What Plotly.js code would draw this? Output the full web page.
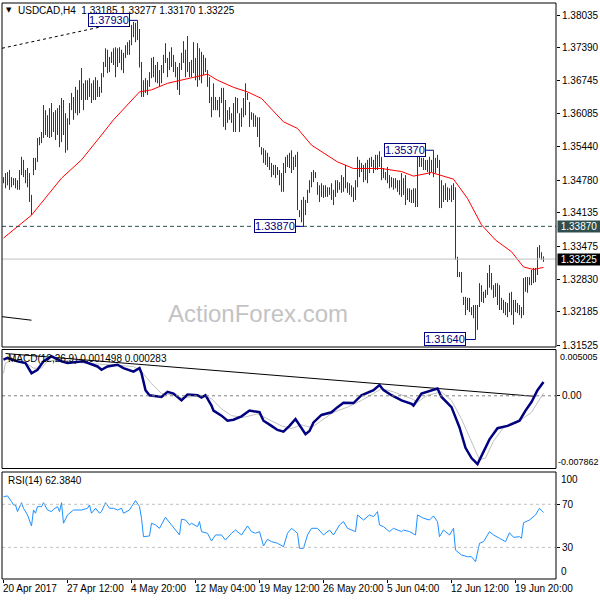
<!DOCTYPE html>
<html><head><meta charset="utf-8">
<script src="https://cdn.plot.ly/plotly-3.0.1.min.js"></script>
<style>html,body{margin:0;padding:0;background:#fff}</style>
</head><body>
<div id="chart" style="width:600px;height:600px"></div>
<script>
const symbol = "USDCAD,H4";
const lastOHLC = [1.33185, 1.33277, 1.33170, 1.33225];

const highs = [1.3484,1.3492,1.3494,1.3498,1.3484,1.3482,1.3482,1.3478,1.3498,1.3524,
 1.3518,1.3498,1.3502,1.3492,1.3449,1.3522,1.3522,1.3561,1.3563,1.3573,
 1.3626,1.3616,1.3606,1.3620,1.3630,1.3612,1.3616,1.3620,1.3626,1.3640,
 1.3636,1.3610,1.3600,1.3630,1.3650,1.3642,1.3662,1.3656,1.3675,1.3699,
 1.3669,1.3675,1.3675,1.3679,1.3669,1.3675,1.3681,1.3675,1.3662,1.3689,
 1.3711,1.3738,1.3735,1.3721,1.3731,1.3738,1.3740,1.3738,1.3740,1.3735,
 1.3729,1.3744,1.3750,1.3754,1.3784,1.3790,1.3788,1.3793,1.3776,1.3711,
 1.3675,1.3679,1.3675,1.3691,1.3719,1.3721,1.3705,1.3711,1.3695,1.3705,
 1.3725,1.3748,1.3719,1.3731,1.3740,1.3725,1.3711,1.3701,1.3709,1.3729,
 1.3752,1.3735,1.3762,1.3711,1.3715,1.3750,1.3719,1.3748,1.3738,1.3731,
 1.3725,1.3719,1.3695,1.3681,1.3642,1.3669,1.3642,1.3636,1.3642,1.3660,
 1.3660,1.3636,1.3616,1.3622,1.3610,1.3630,1.3642,1.3640,1.3610,1.3620,
 1.3640,1.3669,1.3650,1.3632,1.3612,1.3610,1.3606,1.3602,1.3602,1.3543,
 1.3541,1.3537,1.3532,1.3524,1.3512,1.3508,1.3508,1.3504,1.3498,1.3492,
 1.3512,1.3524,1.3528,1.3532,1.3537,1.3524,1.3528,1.3534,1.3419,1.3439,
 1.3445,1.3439,1.3459,1.3478,1.3494,1.3498,1.3494,1.3474,1.3468,1.3472,
 1.3468,1.3468,1.3464,1.3464,1.3472,1.3459,1.3478,1.3478,1.3474,1.3488,
 1.3484,1.3508,1.3474,1.3472,1.3468,1.3464,1.3478,1.3524,1.3518,1.3512,
 1.3508,1.3512,1.3518,1.3522,1.3524,1.3518,1.3528,1.3528,1.3535,1.3524,
 1.3502,1.3494,1.3504,1.3488,1.3484,1.3482,1.3482,1.3478,1.3478,1.3492,
 1.3482,1.3488,1.3462,1.3462,1.3459,1.3462,1.3462,1.3528,1.3524,1.3522,
 1.3522,1.3518,1.3518,1.3524,1.3518,1.3537,1.3522,1.3528,1.3518,1.3478,
 1.3468,1.3472,1.3464,1.3462,1.3468,1.3472,1.3464,1.3327,1.3297,1.3297,
 1.3248,1.3248,1.3246,1.3246,1.3228,1.3232,1.3232,1.3232,1.3275,1.3271,
 1.3258,1.3262,1.3295,1.3311,1.3295,1.3271,1.3275,1.3275,1.3271,1.3246,
 1.3242,1.3238,1.3236,1.3256,1.3258,1.3242,1.3242,1.3236,1.3232,1.3228,
 1.3285,1.3287,1.3287,1.3287,1.3301,1.3305,1.3305,1.3346,1.3350,1.3336,
 1.33277];

const lows = [1.3472,1.3462,1.3468,1.3459,1.3464,1.3468,1.3462,1.3459,1.3459,1.3488,
 1.3484,1.3472,1.3464,1.3435,1.3409,1.3488,1.3498,1.3514,1.3547,1.3551,
 1.3561,1.3567,1.3563,1.3561,1.3563,1.3573,1.3557,1.3567,1.3543,1.3553,
 1.3567,1.3532,1.3537,1.3587,1.3616,1.3597,1.3610,1.3606,1.3610,1.3636,
 1.3616,1.3636,1.3636,1.3642,1.3630,1.3636,1.3636,1.3642,1.3642,1.3650,
 1.3681,1.3701,1.3689,1.3691,1.3709,1.3705,1.3681,1.3701,1.3709,1.3695,
 1.3689,1.3719,1.3725,1.3725,1.3744,1.3760,1.3750,1.3754,1.3700,1.3642,
 1.3642,1.3650,1.3646,1.3662,1.3679,1.3681,1.3671,1.3669,1.3662,1.3669,
 1.3689,1.3709,1.3681,1.3695,1.3701,1.3691,1.3681,1.3656,1.3646,1.3695,
 1.3709,1.3681,1.3691,1.3681,1.3681,1.3689,1.3675,1.3662,1.3675,1.3669,
 1.3685,1.3691,1.3662,1.3630,1.3602,1.3616,1.3616,1.3616,1.3602,1.3630,
 1.3583,1.3577,1.3591,1.3597,1.3591,1.3573,1.3573,1.3610,1.3573,1.3583,
 1.3602,1.3606,1.3636,1.3583,1.3597,1.3583,1.3583,1.3563,1.3543,1.3528,
 1.3512,1.3508,1.3504,1.3498,1.3484,1.3488,1.3482,1.3488,1.3468,1.3455,
 1.3455,1.3492,1.3504,1.3502,1.3492,1.3498,1.3504,1.3419,1.3405,1.3395,
 1.3387,1.3409,1.3433,1.3453,1.3464,1.3474,1.3482,1.3449,1.3435,1.3445,
 1.3443,1.3445,1.3445,1.3449,1.3439,1.3429,1.3445,1.3453,1.3459,1.3453,
 1.3455,1.3462,1.3453,1.3449,1.3445,1.3435,1.3439,1.3464,1.3484,1.3494,
 1.3474,1.3478,1.3472,1.3492,1.3504,1.3492,1.3498,1.3498,1.3504,1.3478,
 1.3482,1.3478,1.3472,1.3462,1.3464,1.3459,1.3462,1.3455,1.3449,1.3445,
 1.3449,1.3429,1.3439,1.3435,1.3433,1.3433,1.3425,1.3425,1.3504,1.3504,
 1.3498,1.3498,1.3494,1.3488,1.3494,1.3484,1.3492,1.3502,1.3423,1.3423,
 1.3435,1.3439,1.3435,1.3439,1.3435,1.3439,1.3321,1.3287,1.3287,1.3256,
 1.3232,1.3212,1.3222,1.3218,1.3212,1.3206,1.3164,1.3183,1.3228,1.3238,
 1.3236,1.3246,1.3252,1.3266,1.3262,1.3246,1.3248,1.3232,1.3222,1.3222,
 1.3216,1.3212,1.3208,1.3218,1.3212,1.3193,1.3218,1.3216,1.3212,1.3206,
 1.3212,1.3258,1.3256,1.3271,1.3271,1.3275,1.3277,1.3291,1.3325,1.3321,
 1.33170];

const maIdx = [0,14,29,39,49,55,68,74,82,89,99,102,107,115,122,129,140,147,154,160,167,175,189,199,205,214,225,232,239,246,254,260,265,270];
const maVal = [1.3364,1.3409,1.3482,1.3518,1.3567,1.3597,1.3652,1.3656,1.3669,1.3675,1.3684,1.3687,1.3675,1.3661,1.3652,1.3639,1.3593,1.3580,1.3547,1.3531,1.3514,1.3501,1.3501,1.3495,1.3486,1.3493,1.3480,1.3442,1.3390,1.3360,1.3337,1.3307,1.3302,1.3306];

const macdIdx = [0,2,7,11,14,17,20,24,29,32,40,47,49,52,57,60,65,68,69,71,73,79,82,85,89,92,97,99,101,104,105,109,112,115,119,123,128,130,134,137,140,143,146,149,151,153,155,159,164,167,170,175,179,185,188,190,194,199,204,205,209,217,219,224,228,231,234,237,239,243,247,252,258,261,264,267,270];
const macdVal = [0.0039,0.00409,0.00372,0.00354,0.00244,0.00281,0.00372,0.00427,0.00372,0.00354,0.00372,0.00317,0.00281,0.00317,0.00336,0.00299,0.00262,0.00299,0.00244,0.00061,0.00006,-0.00013,0.00042,0.00024,-0.0005,0.00013,0.00006,-0.0002,0.00006,-0.00105,-0.0016,-0.00215,-0.0027,-0.00259,-0.00222,-0.0016,-0.00178,-0.0027,-0.00325,-0.00369,-0.00387,-0.00325,-0.00251,-0.00343,-0.00416,-0.0038,-0.00288,-0.00207,-0.00178,-0.00123,-0.00075,-0.00079,0.00006,0.00061,0.00116,0.00061,0.00006,-0.0005,-0.00086,-0.00105,0.00024,0.00079,-0.00013,-0.00123,-0.00343,-0.00563,-0.00673,-0.00739,-0.00655,-0.00471,-0.0035,-0.00325,-0.0027,-0.0016,-0.00068,0.00061,0.001498];

const sigIdx = [0,1,5,10,15,19,22,27,40,54,65,69,74,79,85,89,99,104,109,114,120,127,132,139,144,149,154,159,165,172,179,185,189,195,204,207,212,219,224,229,234,238,241,245,250,257,264,270];
const sigVal = [0.00244,0.00354,0.00391,0.00372,0.00299,0.00299,0.00372,0.00391,0.00354,0.00336,0.00317,0.00262,0.00134,0.00024,0.00006,-0.00024,0.00006,-0.00031,-0.00141,-0.00215,-0.00233,-0.00196,-0.00251,-0.00325,-0.00354,-0.00314,-0.00343,-0.0027,-0.00178,-0.00123,-0.0005,0.00024,0.00079,0.00042,-0.00031,-0.00068,0.00006,0.00042,-0.0005,-0.00251,-0.0049,-0.00691,-0.00673,-0.0049,-0.00343,-0.00288,-0.00178,0.000283];

const rsiIdx = [0,2,4,5,6,7,9,10,12,14,15,16,17,19,20,22,24,25,27,28,29,30,32,34,35,39,42,43,44,46,48,49,51,53,55,57,59,60,63,64,66,68,69,70,73,74,76,78,81,82,84,87,88,89,91,93,94,97,98,99,102,104,106,109,111,114,116,119,122,124,126,128,130,132,134,137,140,142,144,147,148,150,152,154,157,160,163,165,168,170,172,176,177,180,183,185,187,188,190,193,195,199,200,203,206,207,210,213,215,217,218,220,223,225,226,229,232,234,236,238,240,243,245,248,251,253,255,258,259,260,263,266,268,270];
const rsiVal = [77.1,77.8,72.5,69.4,69.4,63.2,71.5,66.3,60.1,49.9,64.7,61.7,67.8,67.8,71.5,64.7,63.2,65.4,67.8,63.2,71.5,52.4,60.1,63.2,64.7,64.7,66.3,69.4,61.7,66.3,61.7,63.2,71.5,66.3,66.3,64.7,66.3,61.7,64.7,67.8,73.4,67.8,57.0,39.9,40.6,52.4,50.8,47.7,58.0,55.4,50.8,44.6,41.5,56.1,55.4,50.8,52.4,49.2,53.9,44.6,43.1,35.9,41.5,41.5,36.8,43.1,46.1,41.5,49.9,44.6,43.1,44.6,31.3,37.5,35.3,33.8,30.6,43.1,47.7,43.1,29.1,29.1,41.5,47.7,47.7,41.5,46.1,41.5,50.8,53.9,47.7,44.6,60.1,55.4,60.1,58.5,63.2,50.8,49.2,44.6,47.7,44.6,46.1,44.6,41.5,60.1,57.0,55.4,59.2,53.9,39.9,46.1,41.5,47.7,27.5,22.9,21.3,21.3,16.7,33.8,35.3,44.6,41.5,38.4,35.3,43.6,39.3,39.9,38.4,52.9,55.4,60.1,66.3,62.384];

const macdLast = 0.001498, sigLast = 0.000283, rsiLast = 62.3840;
const priceTicks = [1.38035,1.37390,1.36745,1.36085,1.35440,1.34780,1.34135,1.33475,1.32830,1.32185,1.31525];
const levelLine = 1.33870;
const macdScale = [0.005005, -0.007862];
const rsiLevels = [70, 30];
const tickIdx = [0,32,64,96,128,160,192,224,256];
const tickLabels = ["20 Apr 2017","27 Apr 12:00","4 May 20:00","12 May 04:00","19 May 12:00","26 May 20:00","5 Jun 04:00","12 Jun 12:00","19 Jun 20:00"];
const trendTopIdx = [-0.75, 48.5], trendTopVal = [1.3738, 1.3780];
const trendLowIdx = [-0.75, 14], trendLowVal = [1.3209, 1.3202];
const macdTrendIdx = [1, 265], macdTrendVal = [0.00457, -0.00005];

// ---------- build ----------
const F = 'Liberation Sans, Arial, sans-serif';
const H = 600, T = 3, B = 21, plotH = H - T - B;
const dom = (yTop, yBot) => [(H - B - yBot) / plotH, (H - B - yTop) / plotH];
const dMain = dom(3, 347), dMacd = dom(349.5, 468.5), dRsi = dom(472, 579);

const bx = [], by = [];
for (let i = 0; i < highs.length; i++) { bx.push(i, i, null); by.push(lows[i], highs[i], null); }

function argExt(arr, a, b, cmp) { let k = a; for (let i = a; i < b; i++) if (cmp(arr[i], arr[k])) k = i; return k; }
const marks = [
  {i: argExt(highs, 0, highs.length, (a,b)=>a>b), arr: highs, shift: -8},
  {i: argExt(highs, 200, 231, (a,b)=>a>b), arr: highs, shift: -8},
  {i: argExt(lows, 140, 170, (a,b)=>a<b), arr: lows, shift: -8},
  {i: argExt(lows, 226, 271, (a,b)=>a<b), arr: lows, shift: -10}
];

const traces = [
  {x: bx, y: by, mode: 'lines', line: {color: '#17405c', width: 1}, xaxis: 'x', yaxis: 'y'},
  {x: maIdx, y: maVal, mode: 'lines', line: {color: '#ff0000', width: 1}, xaxis: 'x', yaxis: 'y'},
  {x: trendTopIdx, y: trendTopVal, mode: 'lines', line: {color: '#000', width: 1, dash: '3px,3px'}, xaxis: 'x', yaxis: 'y'},
  {x: trendLowIdx, y: trendLowVal, mode: 'lines', line: {color: '#000', width: 1}, xaxis: 'x', yaxis: 'y'},
  {x: sigIdx, y: sigVal, mode: 'lines', line: {color: '#c0c0c0', width: 1}, xaxis: 'x', yaxis: 'y2'},
  {x: macdTrendIdx, y: macdTrendVal, mode: 'lines', line: {color: '#000', width: 1}, xaxis: 'x', yaxis: 'y2'},
  {x: macdIdx, y: macdVal, mode: 'lines', line: {color: '#000080', width: 2.5}, xaxis: 'x', yaxis: 'y2'},
  {x: rsiIdx, y: rsiVal, mode: 'lines', line: {color: '#1e90ff', width: 1}, xaxis: 'x', yaxis: 'y3'}
].map(t => Object.assign({type: 'scatter', hoverinfo: 'skip', showlegend: false}, t));

const shapes = [
  {type: 'line', xref: 'paper', x0: 0, x1: 1, yref: 'y', y0: levelLine, y1: levelLine, line: {color: '#2f4f4f', width: 1, dash: '4px,3px'}},
  {type: 'line', xref: 'paper', x0: 0, x1: 1, yref: 'y', y0: lastOHLC[3], y1: lastOHLC[3], line: {color: '#c0c0c0', width: 1}},
  {type: 'line', xref: 'paper', x0: 0, x1: 1, yref: 'y2', y0: 0, y1: 0, line: {color: '#808080', width: 1, dash: '3px,3px'}},
  ...rsiLevels.map(v => ({type: 'line', xref: 'paper', x0: 0, x1: 1, yref: 'y3', y0: v, y1: v, line: {color: '#c0c0c0', width: 1, dash: '3px,3px'}})),
  ...[dMain, dMacd, dRsi].map(d => ({type: 'rect', xref: 'paper', yref: 'paper', x0: 0, x1: 1, y0: d[0], y1: d[1], line: {color: '#000', width: 1}, fillcolor: 'rgba(0,0,0,0)'})),
  ...marks.map(m => ({type: 'line', xref: 'x', yref: 'y', x0: m.i + m.shift / 2, x1: m.i, y0: m.arr[m.i], y1: m.arr[m.i], line: {color: '#000080', width: 1}}))
];

const annotations = [
  ...marks.map(m => ({xref: 'x', yref: 'y', x: m.i, y: m.arr[m.i], xanchor: 'right', yanchor: 'middle', xshift: m.shift,
    text: m.arr[m.i].toFixed(5), showarrow: false, bgcolor: '#fff', bordercolor: '#000080', borderwidth: 1, borderpad: 0,
    font: {family: F, size: 11, color: '#000080'}})),
  {xref: 'paper', yref: 'y', x: 1, y: levelLine, xanchor: 'left', yanchor: 'middle', xshift: 1, width: 42, align: 'center',
    text: levelLine.toFixed(5), showarrow: false, bgcolor: '#2f4f4f', borderpad: 0, font: {family: F, size: 10, color: '#fff'}},
  {xref: 'paper', yref: 'y', x: 1, y: lastOHLC[3], xanchor: 'left', yanchor: 'middle', xshift: 1, width: 42, align: 'center',
    text: lastOHLC[3].toFixed(5), showarrow: false, bgcolor: '#000', borderpad: 0, font: {family: F, size: 10, color: '#fff'}},
  {xref: 'paper', yref: 'paper', x: 1, y: dMacd[1], xanchor: 'left', yanchor: 'top', xshift: 2, text: macdScale[0].toFixed(6), showarrow: false, font: {family: F, size: 9, color: '#000'}},
  {xref: 'paper', yref: 'paper', x: 1, y: dMacd[0], xanchor: 'left', yanchor: 'bottom', xshift: 0, text: macdScale[1].toFixed(6), showarrow: false, font: {family: F, size: 9, color: '#000'}},
  {xref: 'paper', yref: 'paper', x: 1, y: dRsi[1], xanchor: 'left', yanchor: 'top', xshift: 3, text: '100', showarrow: false, font: {family: F, size: 10, color: '#000'}},
  {xref: 'paper', yref: 'paper', x: 1, y: dRsi[0], xanchor: 'left', yanchor: 'bottom', xshift: 3, text: '0', showarrow: false, font: {family: F, size: 10, color: '#000'}},
  ...tickIdx.map((v, k) => ({xref: 'x', yref: 'paper', x: v, y: 0, xanchor: 'left', yanchor: 'top', xshift: -3, yshift: -2,
    text: tickLabels[k], showarrow: false, font: {family: F, size: 10, color: '#000'}})),
  {xref: 'paper', yref: 'paper', x: 0.0072, y: (H - B - 358) / plotH, xanchor: 'left', yanchor: 'middle',
    text: 'MACD(12,26,9) ' + macdLast.toFixed(6) + ' ' + sigLast.toFixed(6), showarrow: false, font: {family: F, size: 10, color: '#000'}},
  {xref: 'paper', yref: 'paper', x: 0.0072, y: (H - B - 480) / plotH, xanchor: 'left', yanchor: 'middle',
    text: 'RSI(14) ' + rsiLast.toFixed(4), showarrow: false, font: {family: F, size: 10, color: '#000'}},
  {xref: 'paper', yref: 'paper', x: 0.0126, y: (H - B - 10) / plotH, xanchor: 'center', yanchor: 'middle',
    text: '▼', showarrow: false, font: {family: 'DejaVu Sans', size: 7, color: '#000'}},
  {xref: 'paper', yref: 'paper', x: (258 - 2) / 554, y: (H - B - 313) / plotH, xanchor: 'center', yanchor: 'middle',
    text: 'ActionForex.com', showarrow: false, font: {family: F, size: 24, color: '#c3c3c3'}}
];

const yBase = {side: 'right', anchor: 'x', showgrid: false, zeroline: false, showline: false, ticks: 'outside', ticklen: 3,
  tickcolor: '#000', tickfont: {family: F, size: 10, color: '#000'}, fixedrange: true};

const layout = {
  width: 600, height: 600,
  margin: {l: 2, r: 44, t: T, b: B, pad: 0},
  paper_bgcolor: '#fff', plot_bgcolor: '#fff', showlegend: false,
  title: {text: symbol + '\u00a0\u00a0' + lastOHLC.map(v => v.toFixed(5)).join('\u00a0'), x: 18 / 600, xanchor: 'left', y: 1 - 10 / 600, yanchor: 'middle', font: {family: F, size: 10, color: '#000'}},
  xaxis: {range: [-0.75, 276.25], anchor: 'y3', showgrid: false, zeroline: false, showline: false, ticks: 'outside', ticklen: 3,
    tickcolor: '#000', tickvals: tickIdx, showticklabels: false, fixedrange: true},
  yaxis: Object.assign({}, yBase, {domain: dMain, range: [1.31492, 1.38272], tickvals: priceTicks, ticktext: priceTicks.map(v => v.toFixed(5))}),
  yaxis2: Object.assign({}, yBase, {domain: dMacd, range: [macdScale[1], macdScale[0]], tickvals: [0], ticktext: ['0.00']}),
  yaxis3: Object.assign({}, yBase, {domain: dRsi, range: [0.6, 100], tickvals: rsiLevels, ticktext: rsiLevels.map(String)}),
  shapes: shapes, annotations: annotations
};

Plotly.newPlot('chart', traces, layout, {displayModeBar: false, staticPlot: true});
</script>
</body></html>
